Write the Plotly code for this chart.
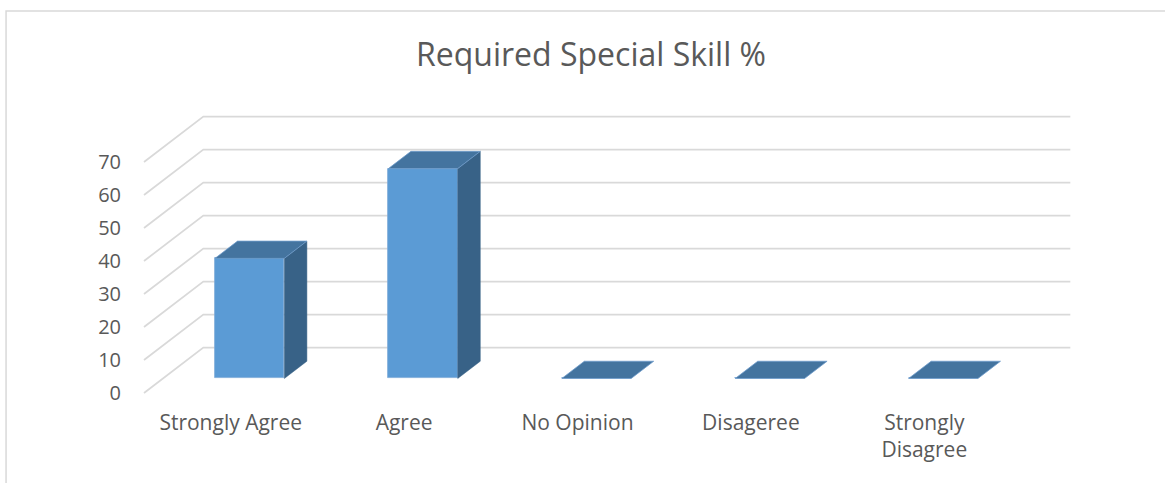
import plotly.graph_objects as go

# Survey responses
categories = ["Strongly Agree", "Agree", "No Opinion", "Disageree", "Strongly Disagree"]
tick_text = ["Strongly Agree", "Agree", "No Opinion", "Disageree", "Strongly<br>Disagree"]
percent = [36.4, 63.6, 0, 0, 0]
y_ticks = [0, 10, 20, 30, 40, 50, 60, 70]

# Oblique 3-D projection: full floor depth expressed in axis units
DEPTH_X = 0.342
DEPTH_Y = 13.75
FRONT = 0.32      # bar front face, as a fraction of floor depth
BACK = 0.70       # bar back face
HALF_W = 0.2      # half bar width in category units

FRONT_COLOR = "#5B9BD5"
TOP_COLOR = "#44749F"
SIDE_COLOR = "#386287"
GRID_COLOR = "#D9D9D9"
TEXT_COLOR = "#595959"
FONT = "Open Sans"

xs = list(range(len(categories)))
fig = go.Figure()

# front faces
fig.add_trace(go.Bar(
    x=[x + FRONT * DEPTH_X for x in xs],
    y=percent,
    base=FRONT * DEPTH_Y,
    width=2 * HALF_W,
    marker=dict(color=FRONT_COLOR, line=dict(color="#7EA9D8", width=0.8)),
    hoverinfo="skip",
    showlegend=False,
))

# top and side faces
top_x, top_y, side_x, side_y = [], [], [], []
for x, v in zip(xs, percent):
    xl, xr = x - HALF_W, x + HALF_W
    top_x += [xl + FRONT * DEPTH_X, xr + FRONT * DEPTH_X, xr + BACK * DEPTH_X, xl + BACK * DEPTH_X, xl + FRONT * DEPTH_X, None]
    top_y += [v + FRONT * DEPTH_Y, v + FRONT * DEPTH_Y, v + BACK * DEPTH_Y, v + BACK * DEPTH_Y, v + FRONT * DEPTH_Y, None]
    if v > 0:
        side_x += [xr + FRONT * DEPTH_X, xr + BACK * DEPTH_X, xr + BACK * DEPTH_X, xr + FRONT * DEPTH_X, xr + FRONT * DEPTH_X, None]
        side_y += [FRONT * DEPTH_Y, BACK * DEPTH_Y, v + BACK * DEPTH_Y, v + FRONT * DEPTH_Y, FRONT * DEPTH_Y, None]

fig.add_trace(go.Scatter(x=side_x, y=side_y, mode="lines", fill="toself",
                         fillcolor=SIDE_COLOR, line=dict(color=SIDE_COLOR, width=0.5),
                         hoverinfo="skip", showlegend=False))
fig.add_trace(go.Scatter(x=top_x, y=top_y, mode="lines", fill="toself",
                         fillcolor=TOP_COLOR, line=dict(color="#6F9CCB", width=0.8),
                         hoverinfo="skip", showlegend=False))

# side wall and back wall gridlines
x_left = -0.5
x_right = len(categories) - 0.5
shapes = []
for v in y_ticks:
    shapes.append(dict(
        type="path", xref="x", yref="y", layer="below",
        path=f"M {x_left},{v} L {x_left + DEPTH_X},{v + DEPTH_Y} L {x_right + DEPTH_X},{v + DEPTH_Y}",
        line=dict(color=GRID_COLOR, width=1.75),
    ))

# chart area border (top and left edges)
shapes.append(dict(
    type="path", xref="paper", yref="paper", layer="below",
    path="M -0.1176,-0.25 L -0.1176,0.9725 L 1.2,0.9725",
    line=dict(color=GRID_COLOR, width=1.5),
))

fig.update_layout(
    width=1165, height=483,
    margin=dict(l=128, r=0, t=0, b=83),
    paper_bgcolor="white", plot_bgcolor="white",
    shapes=shapes,
    title=dict(text="Required Special Skill %", x=591 / 1165, xanchor="center",
               y=1 - 55 / 483, yanchor="middle",
               font=dict(family=FONT, size=32, color=TEXT_COLOR)),
    font=dict(family=FONT, color=TEXT_COLOR),
    xaxis=dict(range=[-0.59227, 5.3881], tickvals=xs, ticktext=tick_text,
               showgrid=False, zeroline=False, showline=False, ticks="",
               ticklabelstandoff=8,
               tickfont=dict(family=FONT, size=21, color=TEXT_COLOR)),
    yaxis=dict(range=[-2.1212, 119.0909], tickvals=y_ticks,
               showgrid=False, zeroline=False, showline=False, ticks="",
               ticklabelstandoff=6,
               tickfont=dict(family=FONT, size=20, color=TEXT_COLOR)),
    bargap=0,
)

fig.write_html("out.html")
